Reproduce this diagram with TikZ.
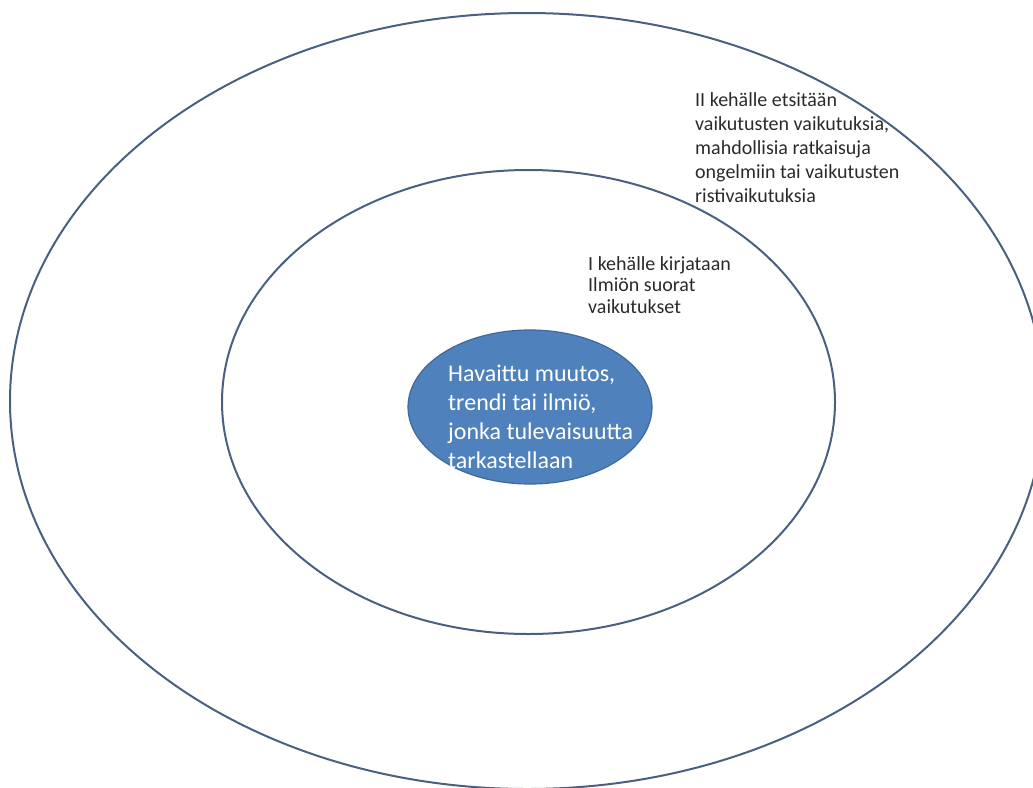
\documentclass[tikz,border=0pt]{standalone}
\usepackage{fontspec}
\setmainfont{Carlito}
\usetikzlibrary{shapes.geometric}
\definecolor{ringline}{HTML}{4A6080}
\definecolor{corefill}{HTML}{4F81BD}
\definecolor{coreline}{HTML}{41689A}
\definecolor{labeltext}{HTML}{2A2A2A}
\begin{document}
\begin{tikzpicture}[x=1pt,y=-1pt,
  ring/.style={ellipse, draw=ringline, line width=2pt, inner sep=0pt},
  core/.style={ellipse, fill=corefill, draw=coreline, line width=1.2pt, inner sep=0pt},
  lbl/.style={anchor=north west, inner sep=0pt, align=left, text=labeltext}]
\useasboundingbox (0,0) rectangle (1033,787);
\node[ring, minimum width=1034pt, minimum height=776pt] (outer) at (527,401) {};
\node[ring, minimum width=613pt, minimum height=464pt] (middle) at (528.5,402) {};
\node[core, minimum width=244pt, minimum height=154pt] (centre) at (530,407) {};
\node[lbl, text=white, font=\fontsize{24}{29}\selectfont] (centretext) at (448,365)
  {Havaittu muutos,\\trendi tai ilmiö,\\jonka tulevaisuutta\\tarkastellaan};
\node[lbl, font=\fontsize{20}{21.8}\selectfont] (ringonetext) at (588,256)
  {I kehälle kirjataan\\Ilmiön suorat\\vaikutukset};
\node[lbl, font=\fontsize{20}{24.2}\selectfont] (ringtwotext) at (695,92)
  {II kehälle etsitään\\vaikutusten vaikutuksia,\\mahdollisia ratkaisuja\\ongelmiin tai vaikutusten\\ristivaikutuksia};
\end{tikzpicture}
\end{document}
